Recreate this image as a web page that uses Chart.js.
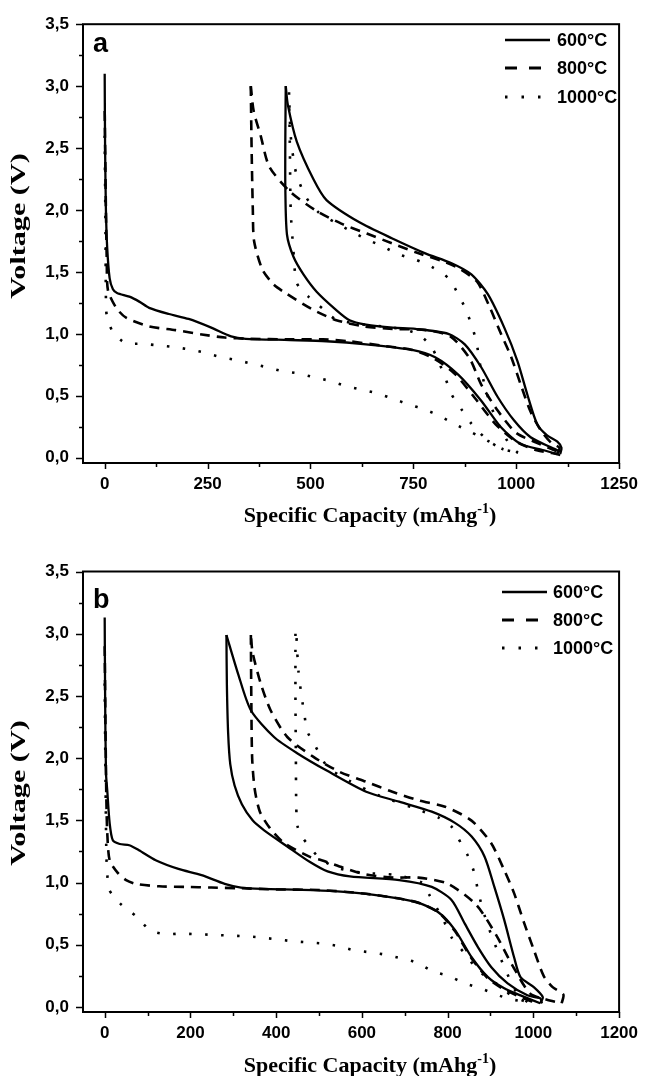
<!DOCTYPE html>
<html>
<head>
<meta charset="utf-8">
<script src="https://cdn.jsdelivr.net/npm/chart.js@4.4.0/dist/chart.umd.min.js"></script>
<style>
  body { margin: 0; background: #fff; }
  .panel { position: absolute; left: 0; width: 649px; height: 538px; }
</style>
</head>
<body>
<div class="panel" style="top:0"><canvas id="chartA" width="649" height="538"></canvas></div>
<div class="panel" style="top:538px"><canvas id="chartB" width="649" height="538"></canvas></div>
<script>
// legend labels
const temps = ['600°C', '800°C', '1000°C'];
const yTicks = [0, 0.5, 1.0, 1.5, 2.0, 2.5, 3.0, 3.5];
const xTicksA = [0, 250, 500, 750, 1000, 1250];
const xTicksB = [0, 200, 400, 600, 800, 1000, 1200];

// ---- panel a : [capacity mAh/g, voltage V]
const a600Dis1 = [[0,3.1],[1,2.5],[3,2.0],[6,1.7],[12,1.45],[20,1.36],[30,1.33],[60,1.30],[84,1.26],[108,1.21],[156,1.16],[204,1.12],[259,1.05],[307,0.98],[343,0.96],[450,0.95],[539,0.94],[635,0.915],[747,0.87],[803,0.81],[859,0.67],[915,0.46],[963,0.245],[1011,0.11],[1067,0.06],[1107,0.02]];
const a600Chg = [[1107,0.03],[1110,0.08],[1100,0.13],[1075,0.18],[1051,0.27],[1027,0.51],[1003,0.78],[971,1.05],[931,1.32],[891,1.48],[843,1.57],[779,1.65],[699,1.77],[619,1.90],[539,2.08],[507,2.25],[467,2.55],[445,2.85],[440,3.0]];
const a600Dis2 = [[440,3.0],[439,2.6],[439,2.17],[443,1.80],[459,1.62],[483,1.48],[515,1.34],[560,1.20],[595,1.11],[635,1.075],[700,1.05],[755,1.04],[835,1.0],[875,0.915],[915,0.73],[955,0.49],[995,0.30],[1035,0.165],[1083,0.085],[1107,0.05]];

const a800Dis1 = [[0,2.8],[3,2.0],[5,1.6],[8,1.35],[28,1.21],[52,1.13],[108,1.06],[172,1.03],[236,0.995],[292,0.97],[350,0.96],[450,0.955],[530,0.955],[594,0.94],[683,0.90],[747,0.87],[800,0.80],[850,0.68],[900,0.48],[950,0.27],[1000,0.13],[1050,0.06],[1100,0.03]];
const a800Chg = [[1100,0.03],[1105,0.08],[1085,0.12],[1060,0.22],[1035,0.37],[1011,0.59],[987,0.82],[963,1.0],[935,1.22],[905,1.42],[860,1.53],[827,1.58],[763,1.65],[699,1.73],[637,1.81],[575,1.89],[511,2.0],[450,2.15],[400,2.35],[379,2.6],[362,2.8],[355,3.0]];
const a800Dis2 = [[355,3.0],[357,2.5],[360,2.0],[363,1.75],[383,1.52],[410,1.40],[439,1.33],[503,1.20],[563,1.11],[630,1.06],[700,1.04],[780,1.03],[840,0.98],[887,0.80],[915,0.59],[955,0.38],[1000,0.20],[1050,0.12],[1100,0.05]];

const a1000Dis1 = [[0,2.6],[2,1.8],[3,1.28],[5,1.15],[19,1.02],[50,0.925],[88,0.92],[120,0.91],[164,0.895],[203,0.875],[240,0.85],[279,0.815],[317,0.79],[356,0.76],[394,0.73],[431,0.70],[471,0.68],[507,0.65],[547,0.62],[585,0.58],[623,0.55],[661,0.52],[701,0.475],[739,0.43],[777,0.39],[815,0.335],[851,0.27],[891,0.205],[929,0.14],[967,0.07],[1004,0.04]];
const a1000Chg = [[1004,0.04],[985,0.1],[960,0.25],[935,0.45],[915,0.7],[903,0.94],[891,1.075],[877,1.2],[859,1.32],[835,1.45],[795,1.54],[755,1.6],[715,1.64],[679,1.70],[639,1.76],[603,1.82],[560,1.9],[520,1.98],[490,2.1],[465,2.3],[452,2.6],[448,2.95]];
const a1000Dis2 = [[448,2.95],[450,2.5],[452,2.0],[458,1.7],[467,1.41],[495,1.30],[531,1.20],[560,1.12],[615,1.08],[700,1.05],[760,1.0],[795,0.89],[827,0.65],[843,0.51],[867,0.39],[891,0.275],[931,0.14],[967,0.07],[1004,0.04]];

// ---- panel b
const b600Dis1 = [[0,3.13],[1,2.5],[3,1.88],[6,1.74],[11.5,1.48],[19,1.34],[35,1.31],[57.5,1.30],[80,1.26],[119,1.18],[172,1.11],[226,1.06],[280,0.99],[318,0.96],[368,0.95],[487,0.94],[610,0.91],[725,0.845],[779,0.76],[817,0.62],[856,0.40],[894,0.24],[932,0.15],[970,0.094],[1016,0.03]];
const b600Chg = [[1016,0.03],[1022,0.08],[1001,0.16],[970,0.24],[955,0.40],[932,0.70],[909,0.965],[886,1.21],[856,1.37],[817,1.48],[763,1.57],[687,1.65],[610,1.73],[518,1.90],[449,2.04],[395,2.17],[341,2.385],[311,2.68],[284,2.99]];
const b600Dis2 = [[284,2.99],[285,2.6],[288,2.2],[293,1.95],[303,1.78],[320,1.63],[345,1.50],[372,1.42],[426,1.29],[479,1.165],[520,1.09],[572,1.05],[687,1.02],[763,0.965],[809,0.86],[840,0.67],[871,0.48],[902,0.32],[940,0.19],[986,0.094],[1016,0.07],[1020,0.03]];

const b800Dis1 = [[0,2.9],[2,2.2],[4,1.65],[6,1.4],[11.5,1.18],[30,1.08],[50,1.02],[73,0.99],[127,0.97],[188,0.965],[249,0.96],[310,0.955],[400,0.945],[500,0.94],[610,0.91],[725,0.845],[779,0.76],[817,0.61],[856,0.39],[894,0.23],[932,0.14],[970,0.08],[1000,0.04]];
const b800Chg = [[1066,0.03],[1070,0.1],[1045,0.16],[1024,0.25],[1001,0.46],[978,0.68],[955,0.915],[932,1.10],[901,1.32],[855,1.50],[794,1.61],[733,1.66],[671,1.73],[610,1.81],[548,1.89],[487,2.01],[426,2.17],[387,2.385],[364,2.60],[345,2.85],[341,2.99]];
const b800Dis2 = [[341,2.99],[342,2.5],[344,2.0],[350,1.75],[362,1.57],[385,1.44],[418,1.32],[480,1.205],[506,1.18],[556,1.12],[610,1.065],[674,1.04],[732,1.04],[801,0.99],[867,0.82],[913,0.58],[951,0.335],[992,0.11],[1030,0.06],[1066,0.03]];

const b1000Dis1 = [[0,2.6],[2,1.8],[4,1.21],[6,1.08],[10,0.945],[35,0.835],[73,0.73],[107,0.615],[142,0.585],[177,0.59],[212,0.585],[252,0.58],[288,0.575],[322,0.57],[361,0.56],[399,0.545],[436,0.53],[472,0.52],[509,0.51],[545,0.49],[583,0.455],[619,0.44],[656,0.42],[693,0.39],[729,0.355],[767,0.285],[802,0.25],[840,0.19],[877,0.15],[913,0.10],[951,0.06],[986,0.04]];
const b1000Chg = [[986,0.04],[960,0.12],[935,0.3],[905,0.55],[885,0.75],[871,0.93],[863,1.07],[848,1.21],[832,1.31],[809,1.45],[780,1.52],[720,1.6],[640,1.7],[570,1.82],[520,1.93],[491,2.1],[472,2.22],[466,2.35],[460,2.48],[452,2.7],[447,3.0]];
const b1000Dis2 = [[445,3.0],[445,2.5],[446,2.0],[447,1.6],[450,1.45],[462,1.36],[480,1.28],[500,1.2],[540,1.12],[600,1.08],[680,1.06],[740,1.0],[756,0.91],[790,0.7],[809,0.56],[840,0.43],[871,0.295],[913,0.19],[946,0.1],[983,0.04]];

// line styles per temperature
const dashes = [[], [10, 7], [2.5, 13.5]];
const widths = [2.3, 2.6, 2.6];

const tickFont = { family: '"Liberation Sans", Arial, sans-serif', size: 17, weight: 'bold' };

function toXY(arr) {
  return arr.map(p => ({ x: p[0], y: p[1] }));
}

function buildDatasets(groups) {
  let ds = [];
  groups.forEach((segs, i) => {
    segs.forEach(seg => {
      ds.push({
        data: toXY(seg),
        showLine: true,
        borderColor: '#000',
        borderWidth: widths[i],
        borderDash: dashes[i],
        pointRadius: 0,
        tension: 0.25,
        fill: false
      });
    });
  });
  return ds;
}

// frame, ticks, titles, legend and panel letter
function decoPlugin(d) {
  return {
    id: 'deco',
    afterDraw(chart) {
      const ctx = chart.ctx;
      const area = chart.chartArea;
      const xs = chart.scales.x, ys = chart.scales.y;
      ctx.save();
      ctx.strokeStyle = '#000';
      ctx.setLineDash([]);
      ctx.lineWidth = 2;
      ctx.strokeRect(area.left, area.top, area.right - area.left, area.bottom - area.top);

      // ticks, outward
      ctx.lineWidth = 1.5;
      ctx.beginPath();
      d.xMinor.forEach(v => {
        const px = Math.round(xs.getPixelForValue(v)) + 0.5;
        const len = d.xTicks.includes(v) ? 6 : 4;
        ctx.moveTo(px, area.bottom);
        ctx.lineTo(px, area.bottom + len);
      });
      d.yMinor.forEach(v => {
        const py = Math.round(ys.getPixelForValue(v)) + 0.5;
        const len = yTicks.includes(v) ? 7 : 4;
        ctx.moveTo(area.left, py);
        ctx.lineTo(area.left - len, py);
      });
      ctx.stroke();

      ctx.fillStyle = '#000';
      // y title, stretched along its length
      ctx.save();
      ctx.translate(d.yTitle[0], d.yTitle[1]);
      ctx.rotate(-Math.PI / 2);
      ctx.scale(1.37, 1);
      ctx.font = 'bold 22px "Liberation Serif", "Times New Roman", serif';
      ctx.textAlign = 'center';
      ctx.textBaseline = 'middle';
      ctx.fillText('Voltage (V)', 0, 0);
      ctx.restore();

      // x title with superscript
      const main = 'Specific Capacity (mAhg';
      ctx.font = 'bold 22px "Liberation Serif", "Times New Roman", serif';
      const w1 = ctx.measureText(main).width;
      const w3 = ctx.measureText(')').width;
      ctx.font = 'bold 14px "Liberation Serif", "Times New Roman", serif';
      const w2 = ctx.measureText('-1').width;
      let x0 = d.xTitle[0] - (w1 + w2 + w3) / 2;
      const base = d.xTitle[1];
      ctx.textAlign = 'left';
      ctx.textBaseline = 'alphabetic';
      ctx.font = 'bold 22px "Liberation Serif", "Times New Roman", serif';
      ctx.fillText(main, x0, base);
      ctx.font = 'bold 14px "Liberation Serif", "Times New Roman", serif';
      ctx.fillText('-1', x0 + w1, base - 9);
      ctx.font = 'bold 22px "Liberation Serif", "Times New Roman", serif';
      ctx.fillText(')', x0 + w1 + w2, base);

      // panel letter
      ctx.font = 'bold 27px "Liberation Sans", Arial, sans-serif';
      ctx.fillText(d.letter, d.letterPos[0], d.letterPos[1]);

      // legend
      ctx.font = 'bold 18px "Liberation Sans", Arial, sans-serif';
      ctx.textBaseline = 'middle';
      temps.forEach((t, i) => {
        const y = d.legendY[i];
        ctx.lineWidth = widths[i] + 0.4;
        ctx.setLineDash(i === 1 ? [12, 12] : i === 2 ? [2.5, 14] : []);
        ctx.beginPath();
        ctx.moveTo(d.legendX[0], y);
        ctx.lineTo(d.legendX[1], y);
        ctx.stroke();
        ctx.setLineDash([]);
        ctx.fillText(t, d.legendX[2], y + 1);
      });
      ctx.restore();
    }
  };
}

function makeChart(id, groups, d) {
  const minors = [];
  for (let v = 0; v <= d.xMax + 0.1; v += d.xStep / 2) minors.push(v);
  const yMinor = [];
  for (let v = 0; v <= 3.51; v += 0.25) yMinor.push(Math.round(v * 100) / 100);
  d.xMinor = minors;
  d.yMinor = yMinor;

  return new Chart(document.getElementById(id), {
    type: 'scatter',
    data: { datasets: buildDatasets(groups) },
    options: {
      responsive: false,
      animation: false,
      devicePixelRatio: 1,
      layout: { padding: { left: 0, top: d.top, right: 22, bottom: 0 } },
      plugins: { legend: { display: false }, tooltip: { enabled: false } },
      scales: {
        x: {
          type: 'linear',
          min: d.xMin,
          max: d.xMax,
          afterBuildTicks: s => { s.ticks = d.xTicks.map(v => ({ value: v })); },
          afterFit: s => { s.height = d.xAxisH; },
          ticks: { font: tickFont, color: '#000', padding: 11, autoSkip: false, maxRotation: 0,
                   callback: v => String(v) },
          grid: { display: false, drawTicks: false },
          border: { display: false }
        },
        y: {
          type: 'linear',
          min: d.yMin,
          max: 3.5,
          afterBuildTicks: s => { s.ticks = yTicks.map(v => ({ value: v })); },
          afterFit: s => { s.width = 83; },
          ticks: { font: tickFont, color: '#000', padding: 14, autoSkip: false,
                   callback: v => v.toFixed(1).replace('.', ',') },
          grid: { display: false, drawTicks: false },
          border: { display: false }
        }
      }
    },
    plugins: [decoPlugin(d)]
  });
}

makeChart('chartA', [
  [a600Dis1, a600Chg, a600Dis2],
  [a800Dis1, a800Chg, a800Dis2],
  [a1000Dis1, a1000Chg, a1000Dis2]
], {
  xMin: -52.7, xMax: 1250, xStep: 250, xTicks: xTicksA, yMin: -0.043,
  top: 22, xAxisH: 75,
  yTitle: [19, 226], xTitle: [370, 522],
  letter: 'a', letterPos: [93, 52],
  legendY: [40, 68, 97], legendX: [505, 550, 557]
});

makeChart('chartB', [
  [b600Dis1, b600Chg, b600Dis2],
  [b800Dis1, b800Chg, b800Dis2],
  [b1000Dis1, b1000Chg, b1000Dis2]
], {
  xMin: -50.6, xMax: 1200, xStep: 200, xTicks: xTicksB, yMin: -0.04,
  top: 33.5, xAxisH: 64,
  yTitle: [19, 255], xTitle: [370, 534],
  letter: 'b', letterPos: [93, 70],
  legendY: [54, 82, 110], legendX: [502, 547, 553]
});
</script>
</body>
</html>
